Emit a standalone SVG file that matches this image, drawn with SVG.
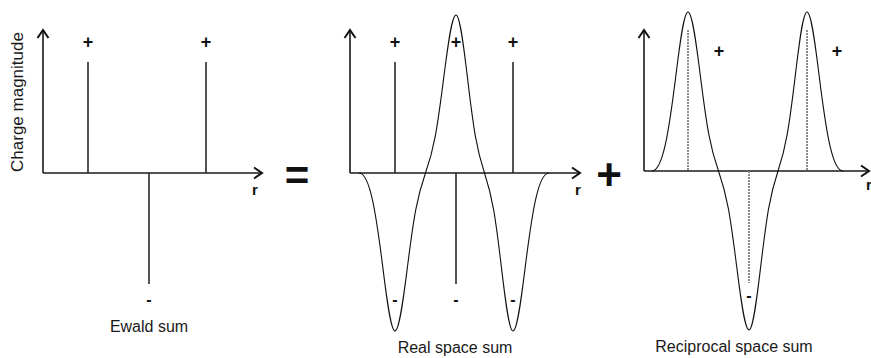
<svg xmlns="http://www.w3.org/2000/svg" width="871" height="358" viewBox="0 0 871 358">
<defs>
<marker id="chev" markerUnits="userSpaceOnUse" viewBox="-11 -7 13 14" markerWidth="13" markerHeight="14" refX="0" refY="0" orient="auto" overflow="visible">
<path d="M-8,-5.5 L0,0 L-8,5.5" fill="none" stroke="#111" stroke-width="2" stroke-linejoin="miter"/>
</marker>
</defs>
<style>
.axis{stroke:#1a1a1a;stroke-width:1.6;fill:none;marker-end:url(#chev)}
.spike{stroke:#2a2a2a;stroke-width:1.6;fill:none}
.curve{stroke:#111;stroke-width:1.1;fill:none}
.dash{stroke:#808080;stroke-width:1.8;stroke-dasharray:2 1;fill:none}
.lbl{font-family:"Liberation Sans",Arial,sans-serif;fill:#1a1a1a}
.sign{font-family:"Liberation Sans",Arial,sans-serif;font-weight:bold;fill:#111;text-anchor:middle}
.cap{font-family:"Liberation Sans",Arial,sans-serif;font-size:16px;fill:#1a1a1a;text-anchor:middle}
</style>
<rect width="871" height="358" fill="#fff"/>

<g id="ewald">
<path class="axis" d="M43,173 V30"/>
<path class="axis" d="M43,173 H262"/>
<path class="spike" d="M88,62 V173 M206,62 V173 M149,173 V284"/>
<text class="sign" x="88" y="47.5" font-size="18">+</text>
<text class="sign" x="206" y="47.5" font-size="18">+</text>
<text class="sign" x="149" y="305" font-size="16">-</text>
<text class="sign" x="255" y="195" font-size="15">r</text>
<text class="lbl" transform="translate(23,102) rotate(-90)" text-anchor="middle" font-size="17">Charge magnitude</text>
<text class="cap" x="149" y="332">Ewald sum</text>
</g>

<g id="equals">
<text class="sign" x="297" y="190" font-size="42">=</text>
</g>

<g id="real">
<path class="axis" d="M350,173 V30"/>
<path class="axis" d="M350,173 H580"/>
<path class="spike" d="M395,62 V173 M513,62 V173 M456,173 V284"/>
<path class="curve" d="M359,173 C369.8,173 375.8,211.39 383,268.83 C386.96,300.44 390.8,331 395,331 C399.27,331 403.17,300.44 407.2,268.83 C413.91,215.96 416.96,197.3 425.5,173 C434.04,148.7 437.09,130.04 443.8,77.17 C447.83,45.56 451.73,15 456,15 C459.99,15 463.64,45.56 467.4,77.17 C473.67,130.04 476.52,148.7 484.5,173 C492.48,197.3 495.33,215.96 501.6,268.83 C505.36,300.44 509.01,331 513,331 C517.2,331 521.04,300.44 525,268.83 C532.2,211.39 538.2,173 549,173"/>
<text class="sign" x="395" y="47.5" font-size="18">+</text>
<text class="sign" x="456" y="47.5" font-size="18">+</text>
<text class="sign" x="513" y="47.5" font-size="18">+</text>
<text class="sign" x="395" y="305" font-size="16">-</text>
<text class="sign" x="456" y="305" font-size="16">-</text>
<text class="sign" x="513" y="305" font-size="16">-</text>
<text class="sign" x="578" y="195" font-size="15">r</text>
<text class="cap" x="455" y="353">Real space sum</text>
</g>

<g id="plus">
<text class="sign" x="609" y="190" font-size="44">+</text>
</g>

<g id="reciprocal">
<path class="axis" d="M644,171 V30"/>
<path class="axis" d="M644,171 H869"/>
<path class="dash" d="M688,30 V171 M807,30 V171 M749,171 V283"/>
<path class="curve" d="M652,171 C662.8,171 668.8,132.36 676,74.57 C679.96,42.75 683.8,12 688,12 C692.27,12 696.17,42.75 700.2,74.57 C706.91,127.77 709.96,146.55 718.5,171 C727.04,195.45 730.09,214.23 736.8,267.43 C740.83,299.25 744.73,330 749,330 C753.06,330 756.77,299.25 760.6,267.43 C766.98,214.23 769.88,195.45 778,171 C786.12,146.55 789.02,127.77 795.4,74.57 C799.23,42.75 802.94,12 807,12 C811.2,12 815.04,42.75 819,74.57 C826.2,132.36 832.2,171 843,171"/>
<text class="sign" x="719" y="57" font-size="18">+</text>
<text class="sign" x="837" y="57" font-size="18">+</text>
<text class="sign" x="749" y="301" font-size="16">-</text>
<text class="sign" x="866" y="190" font-size="15" style="text-anchor:start">r</text>
<text class="cap" x="734" y="352">Reciprocal space sum</text>
</g>
</svg>
